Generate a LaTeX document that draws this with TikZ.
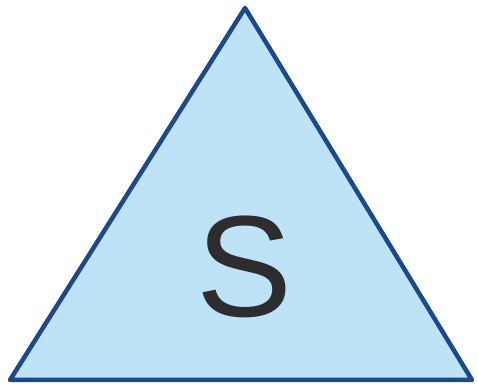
\documentclass[tikz,border=0pt]{standalone}
\usepackage{fontspec}
\setmainfont{Liberation Sans}
\definecolor{trifill}{RGB}{190,226,246}
\definecolor{triedge}{RGB}{28,72,140}
\definecolor{letter}{RGB}{45,45,48}
\begin{document}
\begin{tikzpicture}[x=1pt,y=1pt]
\useasboundingbox (0,0) rectangle (478,387);
\tikzset{tri/.style={fill=trifill,draw=triedge,line width=4.5pt,line join=round}}
\draw[tri] (245,379) -- (10,7) -- (472,7) -- cycle;
\node[text=letter,font=\fontsize{144}{144}\selectfont,inner sep=0pt,anchor=base] (s) at (245,70) {S};
\end{tikzpicture}
\end{document}
